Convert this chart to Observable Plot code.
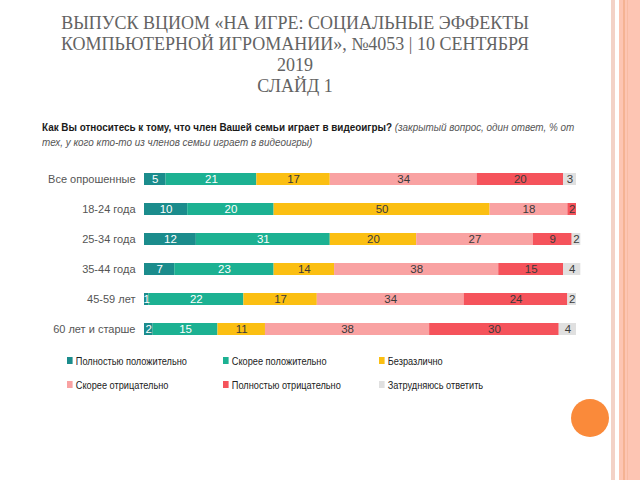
<!DOCTYPE html>
<html>
<head>
<meta charset="utf-8">
<script src="https://cdn.jsdelivr.net/npm/d3@7"></script>
<script src="https://cdn.jsdelivr.net/npm/@observablehq/plot@0.6"></script>
<style>
  html, body { margin: 0; padding: 0; }
  body { width: 640px; height: 480px; position: relative; overflow: hidden; background: #fff; }
  .abs { position: absolute; }
  #title { left: 0; width: 590px; top: 13px; text-align: center; font-family: "Liberation Serif", "DejaVu Serif", serif; font-size: 18px; line-height: 21px; color: #636363; }
  .q { left: 42px; white-space: nowrap; transform: scaleX(0.86); transform-origin: 0 0; font-family: "Liberation Sans", sans-serif; font-size: 11.5px; line-height: 15px; color: #1a1a1a; }
  .q i { color: #555; }
  #chart { left: 0; top: 160px; }
  .leg { font-family: "Liberation Sans", sans-serif; font-size: 11.5px; color: #222; white-space: nowrap; transform: scaleX(0.8); transform-origin: 0 50%; }
  .leg span.sw { display: inline-block; width: 7px; height: 7px; margin-right: 4px; vertical-align: 1px; }
</style>
</head>
<body>
<div class="abs" style="left:611px;top:0;width:4px;height:480px;background:#f3d2c7"></div>
<div class="abs" style="left:619px;top:0;width:21px;height:480px;background:#fdc5b3"></div>
<div class="abs" style="left:623px;top:0;width:2px;height:480px;background:#f5b393"></div>
<div class="abs" style="left:627px;top:0;width:1px;height:480px;background:#f8bba3"></div>
<div class="abs" style="left:571px;top:399px;width:38px;height:38px;border-radius:50%;background:#fa8a3a"></div>

<div id="title" class="abs">ВЫПУСК ВЦИОМ «НА ИГРЕ: СОЦИАЛЬНЫЕ ЭФФЕКТЫ<br>КОМПЬЮТЕРНОЙ ИГРОМАНИИ», №4053 | 10 СЕНТЯБРЯ<br>2019<br>СЛАЙД 1</div>
<div class="abs q" style="top:120px"><b>Как Вы относитесь к тому, что член Вашей семьи играет в видеоигры?</b> <i>(закрытый вопрос, один ответ, % от</i></div>
<div class="abs q" style="top:135px"><i>тех, у кого кто-то из членов семьи играет в видеоигры)</i></div>
<div id="chart" class="abs"></div>
<div id="legend"></div>

<script>
const categories = ["Все опрошенные", "18-24 года", "25-34 года", "35-44 года", "45-59 лет", "60 лет и старше"];
const seriesNames = ["Полностью положительно", "Скорее положительно", "Безразлично", "Скорее отрицательно", "Полностью отрицательно", "Затрудняюсь ответить"];
const colors = ["#1b8c8c", "#1cb192", "#fbbf12", "#f9a2a2", "#f5535b", "#e0e0e0"];
const fullyPositive = [5, 10, 12, 7, 1, 2];
const ratherPositive = [21, 20, 31, 23, 22, 15];
const indifferent = [17, 50, 20, 14, 17, 11];
const ratherNegative = [34, 18, 27, 38, 34, 38];
const fullyNegative = [20, 2, 9, 15, 24, 30];
const hardToSay = [3, 0, 2, 4, 2, 4];

const seriesValues = [fullyPositive, ratherPositive, indifferent, ratherNegative, fullyNegative, hardToSay];
const data = [];
categories.forEach((c, i) => {
  seriesNames.forEach((s, j) => {
    data.push({cat: c, series: s, si: j, value: seriesValues[j][i]});
  });
});
const nonzero = data.filter(d => d.value > 0);

const chart = Plot.plot({
  width: 640,
  height: 185,
  marginLeft: 144,
  marginRight: 64,
  marginTop: 9,
  marginBottom: 6,
  style: {fontFamily: "'Liberation Sans', Arial, sans-serif", fontSize: "11px", color: "#555", background: "transparent"},
  x: {domain: [0, 100], axis: null},
  y: {domain: categories, paddingInner: 0.605, paddingOuter: 0.1, label: null},
  color: {domain: seriesNames, range: colors},
  marks: [
    Plot.axisY({tickSize: 0, tickPadding: 9, fontSize: 11, label: null}),
    Plot.barX(nonzero, Plot.stackX({x: "value", y: "cat", fill: "series", order: seriesNames})),
    Plot.text(nonzero, Plot.stackX({x: "value", y: "cat", z: "series", order: seriesNames, text: d => String(d.value),
      fill: d => d.si < 2 ? "#ffffff" : "#3a3a3a", fontSize: 11.5}))
  ]
});
document.getElementById("chart").appendChild(chart);

const legend = document.getElementById("legend");
const legX = [67, 223, 379];
const legY = [355, 379];
seriesNames.forEach((s, j) => {
  const el = document.createElement("div");
  el.className = "abs leg";
  el.style.left = legX[j % 3] + "px";
  el.style.top = legY[Math.floor(j / 3)] + "px";
  el.innerHTML = `<span class="sw" style="background:${colors[j]}"></span>${s}`;
  legend.appendChild(el);
});
</script>
</body>
</html>
